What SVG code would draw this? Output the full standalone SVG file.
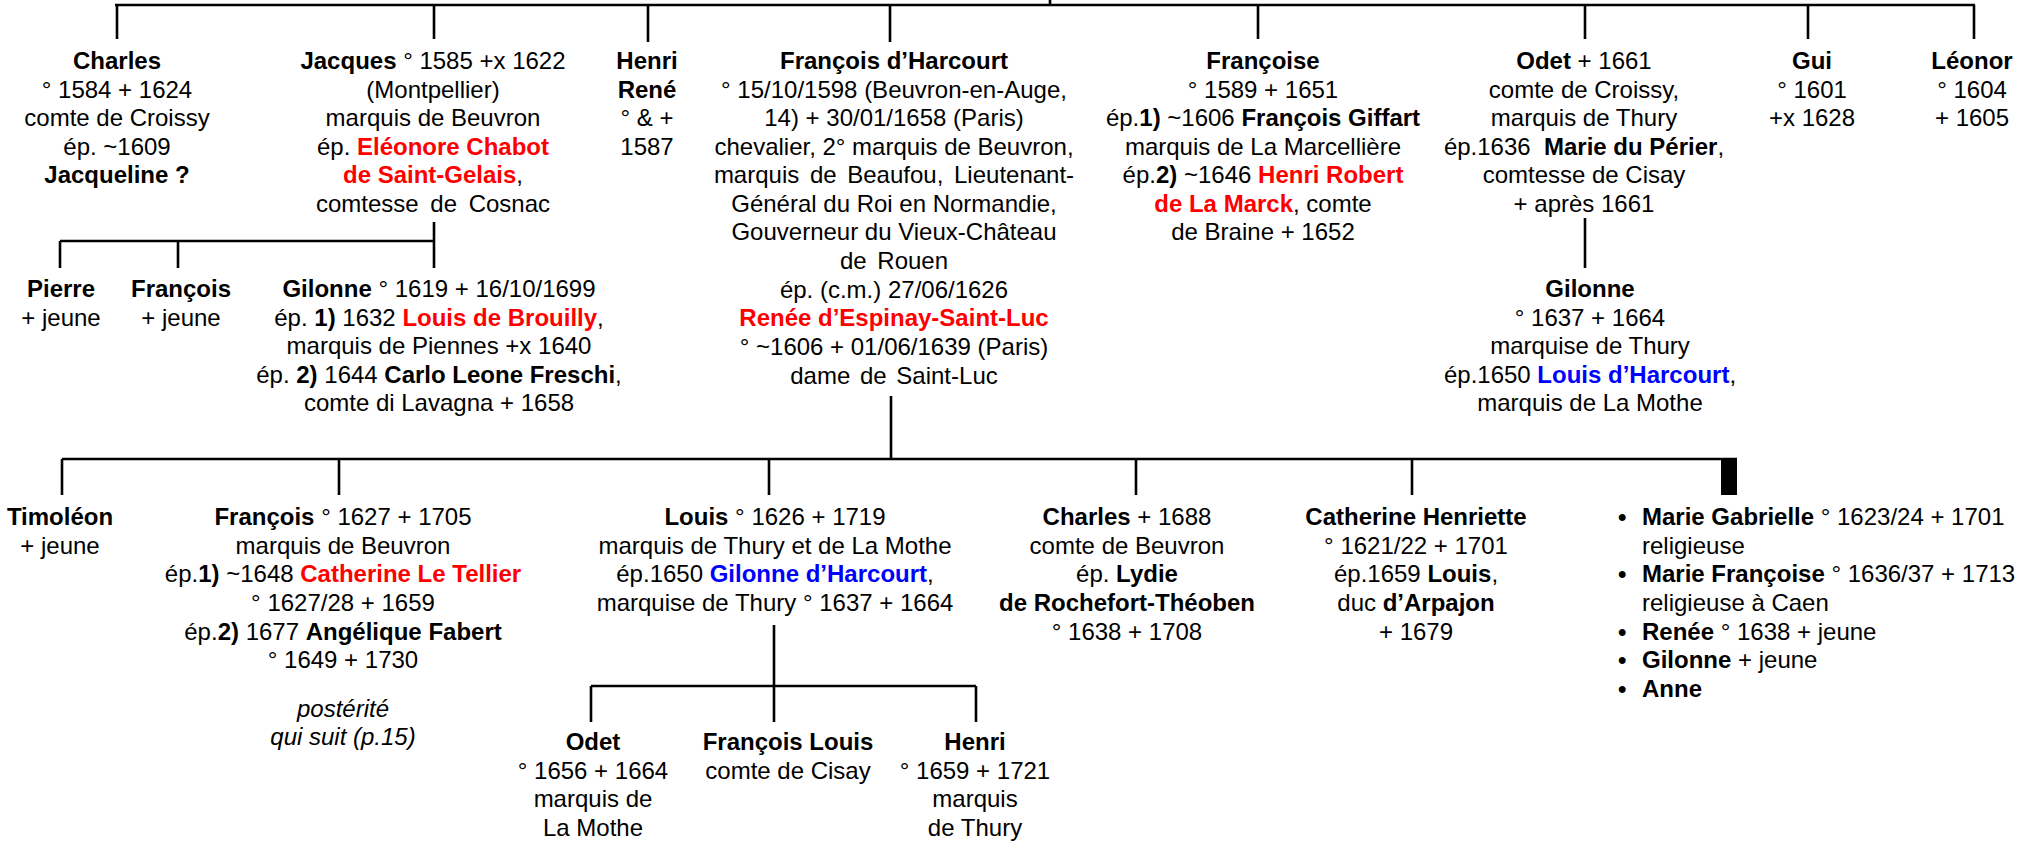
<svg xmlns="http://www.w3.org/2000/svg" width="2043" height="849" viewBox="0 0 2043 849">
<style>
text { font-family: "Liberation Sans", Arial, sans-serif; font-size: 24px; fill: #000; text-anchor: middle; }
.b { font-weight: bold; }
.r { fill: #FF0000; font-weight: bold; }
.u { fill: #0000FF; font-weight: bold; }
.i { font-style: italic; }
.l { text-anchor: start; }
.ln { stroke: #000; stroke-width: 2.6; fill: none; }
</style>
<rect width="2043" height="849" fill="#fff"/>
<g id="connectors" class="ln">
<path d="M1050 0V5M115 5H1975M117 5V39M434 5V39M648 5V42M890 5V42M1258 5V39M1585 5V39M1808 5V39M1974 5V39"/>
<path d="M434 222V268M60 241H434M60 241V268M178 241V268"/>
<path d="M1585 218V268"/>
<path d="M891 396V459M62 459H1737M62 459V495M339 459V495M769 459V495M1136 459V495M1412 459V495"/>
<path d="M774 625V722M591 686H976M591 686V722M976 686V722"/>
<rect x="1721" y="459" width="16" height="36" fill="#000" stroke="none"/>
</g>
<g id="charles">
<text x="117" y="69" class="b">Charles</text>
<text x="117" y="98">° 1584 + 1624</text>
<text x="117" y="126">comte de Croissy</text>
<text x="117" y="155">ép. ~1609</text>
<text x="117" y="183" class="b">Jacqueline ?</text>
</g>
<g id="jacques">
<text x="433" y="69"><tspan class="b">Jacques</tspan> ° 1585 +x 1622</text>
<text x="433" y="98">(Montpellier)</text>
<text x="433" y="126">marquis de Beuvron</text>
<text x="433" y="155">ép. <tspan class="r">Eléonore Chabot</tspan></text>
<text x="433" y="183"><tspan class="r">de Saint-Gelais</tspan>,</text>
<text x="433" y="212" word-spacing="5">comtesse de Cosnac</text>
</g>
<g id="henri">
<text x="647" y="69" class="b">Henri</text>
<text x="647" y="98" class="b">René</text>
<text x="647" y="126">° &amp; +</text>
<text x="647" y="155">1587</text>
</g>
<g id="francois-harcourt">
<text x="894" y="69" class="b">François d’Harcourt</text>
<text x="894" y="98">° 15/10/1598 (Beuvron-en-Auge,</text>
<text x="894" y="126">14) + 30/01/1658 (Paris)</text>
<text x="894" y="155">chevalier, 2° marquis de Beuvron,</text>
<text x="894" y="183" word-spacing="4">marquis de Beaufou, Lieutenant-</text>
<text x="894" y="212">Général du Roi en Normandie,</text>
<text x="894" y="240">Gouverneur du Vieux-Château</text>
<text x="894" y="269" word-spacing="4">de Rouen</text>
<text x="894" y="298">ép. (c.m.) 27/06/1626</text>
<text x="894" y="326" class="r">Renée d’Espinay-Saint-Luc</text>
<text x="894" y="355">° ~1606 + 01/06/1639 (Paris)</text>
<text x="894" y="384" word-spacing="3">dame de Saint-Luc</text>
</g>
<g id="francoise">
<text x="1263" y="69" class="b">Françoise</text>
<text x="1263" y="98">° 1589 + 1651</text>
<text x="1263" y="126">ép.<tspan class="b">1)</tspan> ~1606 <tspan class="b">François Giffart</tspan></text>
<text x="1263" y="155">marquis de La Marcellière</text>
<text x="1263" y="183">ép.<tspan class="b">2)</tspan> ~1646 <tspan class="r">Henri Robert</tspan></text>
<text x="1263" y="212"><tspan class="r">de La Marck</tspan>, comte</text>
<text x="1263" y="240">de Braine + 1652</text>
</g>
<g id="odet">
<text x="1584" y="69"><tspan class="b">Odet</tspan> + 1661</text>
<text x="1584" y="98">comte de Croissy,</text>
<text x="1584" y="126">marquis de Thury</text>
<text x="1584" y="155" xml:space="preserve">ép.1636  <tspan class="b">Marie du Périer</tspan>,</text>
<text x="1584" y="183">comtesse de Cisay</text>
<text x="1584" y="212">+ après 1661</text>
</g>
<g id="gui">
<text x="1812" y="69" class="b">Gui</text>
<text x="1812" y="98">° 1601</text>
<text x="1812" y="126">+x 1628</text>
</g>
<g id="leonor">
<text x="1972" y="69" class="b">Léonor</text>
<text x="1972" y="98">° 1604</text>
<text x="1972" y="126">+ 1605</text>
</g>
<g id="pierre">
<text x="61" y="297" class="b">Pierre</text>
<text x="61" y="326">+ jeune</text>
</g>
<g id="francois-jeune">
<text x="181" y="297" class="b">François</text>
<text x="181" y="326">+ jeune</text>
</g>
<g id="gilonne-jacques">
<text x="439" y="297"><tspan class="b">Gilonne</tspan> ° 1619 + 16/10/1699</text>
<text x="439" y="326">ép. <tspan class="b">1)</tspan> 1632 <tspan class="r">Louis de Brouilly</tspan>,</text>
<text x="439" y="354">marquis de Piennes +x 1640</text>
<text x="439" y="383">ép. <tspan class="b">2)</tspan> 1644 <tspan class="b">Carlo Leone Freschi</tspan>,</text>
<text x="439" y="411">comte di Lavagna + 1658</text>
</g>
<g id="gilonne-odet">
<text x="1590" y="297" class="b">Gilonne</text>
<text x="1590" y="326">° 1637 + 1664</text>
<text x="1590" y="354">marquise de Thury</text>
<text x="1590" y="383">ép.1650 <tspan class="u">Louis d’Harcourt</tspan>,</text>
<text x="1590" y="411">marquis de La Mothe</text>
</g>
<g id="timoleon">
<text x="60" y="525" class="b">Timoléon</text>
<text x="60" y="554">+ jeune</text>
</g>
<g id="francois-beuvron">
<text x="343" y="525"><tspan class="b">François</tspan> ° 1627 + 1705</text>
<text x="343" y="554">marquis de Beuvron</text>
<text x="343" y="582">ép.<tspan class="b">1)</tspan> ~1648 <tspan class="r">Catherine Le Tellier</tspan></text>
<text x="343" y="611">° 1627/28 + 1659</text>
<text x="343" y="640">ép.<tspan class="b">2)</tspan> 1677 <tspan class="b">Angélique Fabert</tspan></text>
<text x="343" y="668">° 1649 + 1730</text>
<text x="343" y="717" class="i">postérité</text>
<text x="343" y="745" class="i">qui suit (p.15)</text>
</g>
<g id="louis">
<text x="775" y="525"><tspan class="b">Louis</tspan> ° 1626 + 1719</text>
<text x="775" y="554">marquis de Thury et de La Mothe</text>
<text x="775" y="582">ép.1650 <tspan class="u">Gilonne d’Harcourt</tspan>,</text>
<text x="775" y="611">marquise de Thury ° 1637 + 1664</text>
</g>
<g id="charles-beuvron">
<text x="1127" y="525"><tspan class="b">Charles</tspan> + 1688</text>
<text x="1127" y="554">comte de Beuvron</text>
<text x="1127" y="582">ép. <tspan class="b">Lydie</tspan></text>
<text x="1127" y="611" class="b">de Rochefort-Théoben</text>
<text x="1127" y="640">° 1638 + 1708</text>
</g>
<g id="catherine">
<text x="1416" y="525" class="b">Catherine Henriette</text>
<text x="1416" y="554">° 1621/22 + 1701</text>
<text x="1416" y="582">ép.1659 <tspan class="b">Louis</tspan>,</text>
<text x="1416" y="611">duc <tspan class="b">d’Arpajon</tspan></text>
<text x="1416" y="640">+ 1679</text>
</g>
<g id="filles">
<text x="1618" y="525" class="l b">•</text>
<text x="1642" y="525" class="l"><tspan class="b">Marie Gabrielle</tspan> ° 1623/24 + 1701</text>
<text x="1642" y="554" class="l">religieuse</text>
<text x="1618" y="582" class="l b">•</text>
<text x="1642" y="582" class="l"><tspan class="b">Marie Françoise</tspan> ° 1636/37 + 1713</text>
<text x="1642" y="611" class="l">religieuse à Caen</text>
<text x="1618" y="640" class="l b">•</text>
<text x="1642" y="640" class="l"><tspan class="b">Renée</tspan> ° 1638 + jeune</text>
<text x="1618" y="668" class="l b">•</text>
<text x="1642" y="668" class="l"><tspan class="b">Gilonne</tspan> + jeune</text>
<text x="1618" y="697" class="l b">•</text>
<text x="1642" y="697" class="l b">Anne</text>
</g>
<g id="odet-lamothe">
<text x="593" y="750" class="b">Odet</text>
<text x="593" y="779">° 1656 + 1664</text>
<text x="593" y="807">marquis de</text>
<text x="593" y="836">La Mothe</text>
</g>
<g id="francois-louis">
<text x="788" y="750" class="b">François Louis</text>
<text x="788" y="779">comte de Cisay</text>
</g>
<g id="henri-thury">
<text x="975" y="750" class="b">Henri</text>
<text x="975" y="779">° 1659 + 1721</text>
<text x="975" y="807">marquis</text>
<text x="975" y="836">de Thury</text>
</g>
</svg>
